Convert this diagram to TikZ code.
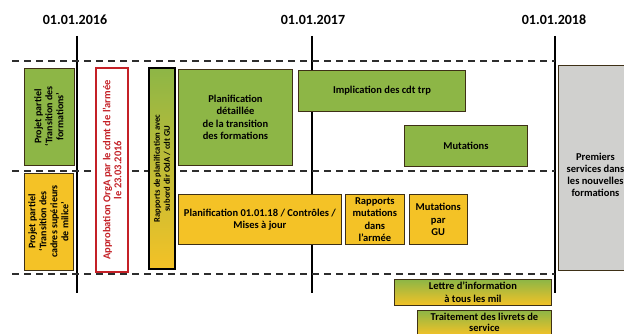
\documentclass[tikz,border=0pt]{standalone}
\usepackage{fontspec}
\setmainfont{Carlito}
\usetikzlibrary{positioning}
\definecolor{grnfill}{RGB}{141,182,70}
\definecolor{ylwfill}{RGB}{244,194,38}
\definecolor{boxline}{RGB}{62,48,22}
\definecolor{redline}{RGB}{196,32,38}
\definecolor{greyfill}{RGB}{208,208,206}
\definecolor{sepcol}{RGB}{45,45,45}

\begin{document}
\begin{tikzpicture}[x=1pt,y=-1pt,
  box/.style={draw=boxline,line width=0.9pt,align=center,inner sep=1pt,
    font=\bfseries\fontsize{10.5}{12.5}\selectfont},
  grnbox/.style={box,fill=grnfill},
  ylwbox/.style={box,fill=ylwfill},
  upright/.style={rotate=90,align=center,font=\bfseries\fontsize{10}{11}\selectfont},
  datelbl/.style={font=\bfseries\fontsize{14}{16}\selectfont},
  yearline/.style={line width=1.6pt,black},
  sepline/.style={line width=1.8pt,dash pattern=on 7pt off 5pt,draw=sepcol}]
  \useasboundingbox (0,0) rectangle (624,334);
  \clip (0,0) rectangle (624,334);

  % dates
  \node[datelbl] (d16) at (75,20) {01.01.2016};
  \node[datelbl] (d17) at (313,20) {01.01.2017};
  \node[datelbl] (d18) at (554,20) {01.01.2018};

  % year lines and separators
  \draw[yearline] (77,36) -- (77,293);
  \draw[yearline] (312,36) -- (312,293);
  \draw[yearline] (555,36) -- (555,293);
  \foreach \y in {61,171,274}
    \draw[sepline] (12,\y) -- (555,\y);

  % vertical boxes
  \node[grnbox,upright,minimum width=97pt,minimum height=50pt] (projform) at (49,116.5)
    {Projet partiel\\`Transition des\\formations'};
  \node[ylwbox,upright,minimum width=97pt,minimum height=49pt] (projcadr) at (48.5,221.5)
    {Projet partiel\\`Transition des\\cadres supérieurs\\de milice'};
  \node[box,upright,draw=redline,line width=1.4pt,fill=white,text=redline,
    minimum width=204pt,minimum height=32pt,font=\bfseries\fontsize{10.5}{11}\selectfont] (approb) at (112,170)
    {Approbation OrgA par le cdmt de l'armée\\le 23.03.2016};
  \node[box,draw=black,line width=1.4pt,top color=grnfill,bottom color=ylwfill,
    minimum width=26pt,minimum height=201pt] (rapplan) at (162,168.5) {};
  \node[upright,font=\bfseries\fontsize{8.6}{10}\selectfont] (rapplantxt) at (rapplan.center)
    {Rapports de planification avec\\subord dir OdA / cdt GU};

  % planning boxes
  \node[grnbox,anchor=north west,minimum width=114pt,minimum height=96pt] (plandet) at (178,69)
    {Planification\\détaillée\\de la transition\\des formations};
  \node[grnbox,anchor=north west,minimum width=167pt,minimum height=41pt] (implic) at (298,70)
    {Implication des cdt trp};
  \node[grnbox,anchor=north west,minimum width=123pt,minimum height=41pt] (mutat) at (404,125)
    {Mutations};
  \node[ylwbox,anchor=north west,minimum width=163pt,minimum height=50pt] (plan18) at (178,194)
    {Planification 01.01.18 / Contrôles /\\Mises à jour};
  \node[ylwbox,minimum width=59pt,minimum height=50pt,right=3pt of plan18] (rappmut)
    {Rapports\\mutations\\dans\\l'armée};
  \node[ylwbox,minimum width=58pt,minimum height=50pt,right=4pt of rappmut] (mutgu)
    {Mutations\\par\\GU};
  \node[box,fill=greyfill,anchor=north west,minimum width=74pt,minimum height=205pt] (premsvc) at (558,65) {};
  \node[align=center,font=\bfseries\fontsize{10.5}{12}\selectfont] (premsvctxt)
    at ([yshift=-7pt]premsvc.center)
    {Premiers\\services dans\\les nouvelles\\formations};
  \node[box,top color=grnfill,bottom color=ylwfill,anchor=north west,
    minimum width=157pt,minimum height=26pt] (lettre) at (394,279)
    {Lettre d'information\\à tous les mil};
  \node[box,top color=grnfill,bottom color=ylwfill,minimum width=134pt,minimum height=25pt,
    font=\bfseries\fontsize{10.5}{11}\selectfont,
    below left=4pt and 0pt of lettre.south east] (livrets)
    {Traitement des livrets de\\service};
\end{tikzpicture}
\end{document}
